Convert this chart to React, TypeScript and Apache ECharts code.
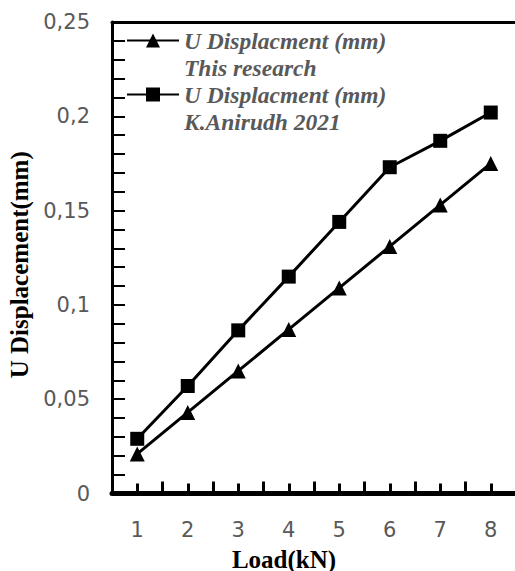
import React, { useEffect, useRef } from "react";
import * as echarts from "echarts";

const loads = [1, 2, 3, 4, 5, 6, 7, 8];
const thisResearch = [0.021, 0.043, 0.065, 0.087, 0.109, 0.131, 0.153, 0.175];
const anirudh = [0.029, 0.057, 0.0865, 0.115, 0.144, 0.173, 0.187, 0.202];
const seriesNames = [
  "U Displacment (mm)\nThis research",
  "U Displacment (mm)\nK.Anirudh 2021",
];

export default function App() {
  const ref = useRef<HTMLDivElement>(null);
  useEffect(() => {
    document.body.style.margin = "0";
    const chart = echarts.init(ref.current!, undefined, { renderer: "svg" });
    const labelStyle = { fontFamily: "DejaVu Sans", fontSize: 21, color: "#595959" };
    const titleStyle = {
      fontFamily: "Liberation Serif",
      fontWeight: "bold" as const,
      fontSize: 25,
      color: "#000",
    };
    chart.setOption({
      animation: false,
      backgroundColor: "#fff",
      grid: { left: 112, right: -1, top: 22, bottom: 77.5, outerBoundsMode: "none", containLabel: false },
      legend: {
        orient: "vertical",
        left: 126,
        top: 0,
        padding: 0,
        itemWidth: 52,
        itemHeight: 17.5,
        itemGap: -27,
        data: seriesNames,
        formatter: (name: string) => "\n" + name,
        textStyle: {
          fontFamily: "Liberation Serif",
          fontStyle: "italic",
          fontWeight: "bold",
          fontSize: 23.5,
          color: "#595959",
          lineHeight: 27,
        },
      },
      xAxis: [
        {
          type: "value",
          min: 0.5,
          max: 8.5,
          interval: 0.5,
          position: "bottom",
          name: "Load(kN)",
          nameLocation: "middle",
          nameGap: 53,
          nameTextStyle: { ...titleStyle, padding: [0, 60, 0, 0] },
          axisLine: { show: true, onZero: false, lineStyle: { color: "#000", width: 5 } },
          axisTick: { show: true, inside: true, length: 10, lineStyle: { color: "#000", width: 3 } },
          axisLabel: {
            ...labelStyle,
            margin: 26,
            formatter: (v: number) => (Number.isInteger(v) ? String(v) : ""),
          },
          splitLine: { show: false },
        },
        {
          type: "value",
          min: 0,
          max: 8,
          interval: 1,
          position: "bottom",
          axisLine: { show: false },
          axisTick: { show: true, inside: true, length: 12, lineStyle: { color: "#000", width: 3 } },
          axisLabel: { show: false },
          splitLine: { show: false },
        },
        {
          type: "value",
          min: 0,
          max: 8,
          position: "top",
          axisLine: { show: true, onZero: false, lineStyle: { color: "#000", width: 3 } },
          axisTick: { show: false },
          axisLabel: { show: false },
          splitLine: { show: false },
        },
      ],
      yAxis: [
        {
          type: "value",
          min: 0,
          max: 0.25,
          interval: 0.05,
          position: "left",
          name: "U Displacement(mm)",
          nameLocation: "middle",
          nameGap: 77,
          nameTextStyle: { ...titleStyle, padding: [0, 14, 0, 0] },
          axisLine: { show: true, onZero: false, lineStyle: { color: "#000", width: 3 } },
          axisTick: { show: false },
          axisLabel: {
            ...labelStyle,
            margin: 22,
            formatter: (v: number) => (v === 0 ? "0" : String(+v.toFixed(2)).replace(".", ",")),
          },
          splitLine: { show: false },
        },
        {
          type: "value",
          min: 0,
          max: 25,
          interval: 1,
          position: "left",
          axisLine: { show: false },
          axisTick: { show: true, inside: true, length: 13, lineStyle: { color: "#000", width: 2 } },
          axisLabel: { show: false },
          splitLine: { show: false },
        },
      ],
      series: [
        {
          name: seriesNames[0],
          type: "line",
          xAxisIndex: 0,
          yAxisIndex: 0,
          data: loads.map((x, i) => [x, thisResearch[i]]),
          symbol: "triangle",
          symbolSize: 15,
          itemStyle: { color: "#000" },
          lineStyle: { color: "#000", width: 3 },
        },
        {
          name: seriesNames[1],
          type: "line",
          xAxisIndex: 0,
          yAxisIndex: 0,
          data: loads.map((x, i) => [x, anirudh[i]]),
          symbol: "rect",
          symbolSize: 14,
          itemStyle: { color: "#000" },
          lineStyle: { color: "#000", width: 3 },
        },
      ],
    });
    return () => chart.dispose();
  }, []);
  return <div ref={ref} style={{ width: 515, height: 571 }} />;
}
